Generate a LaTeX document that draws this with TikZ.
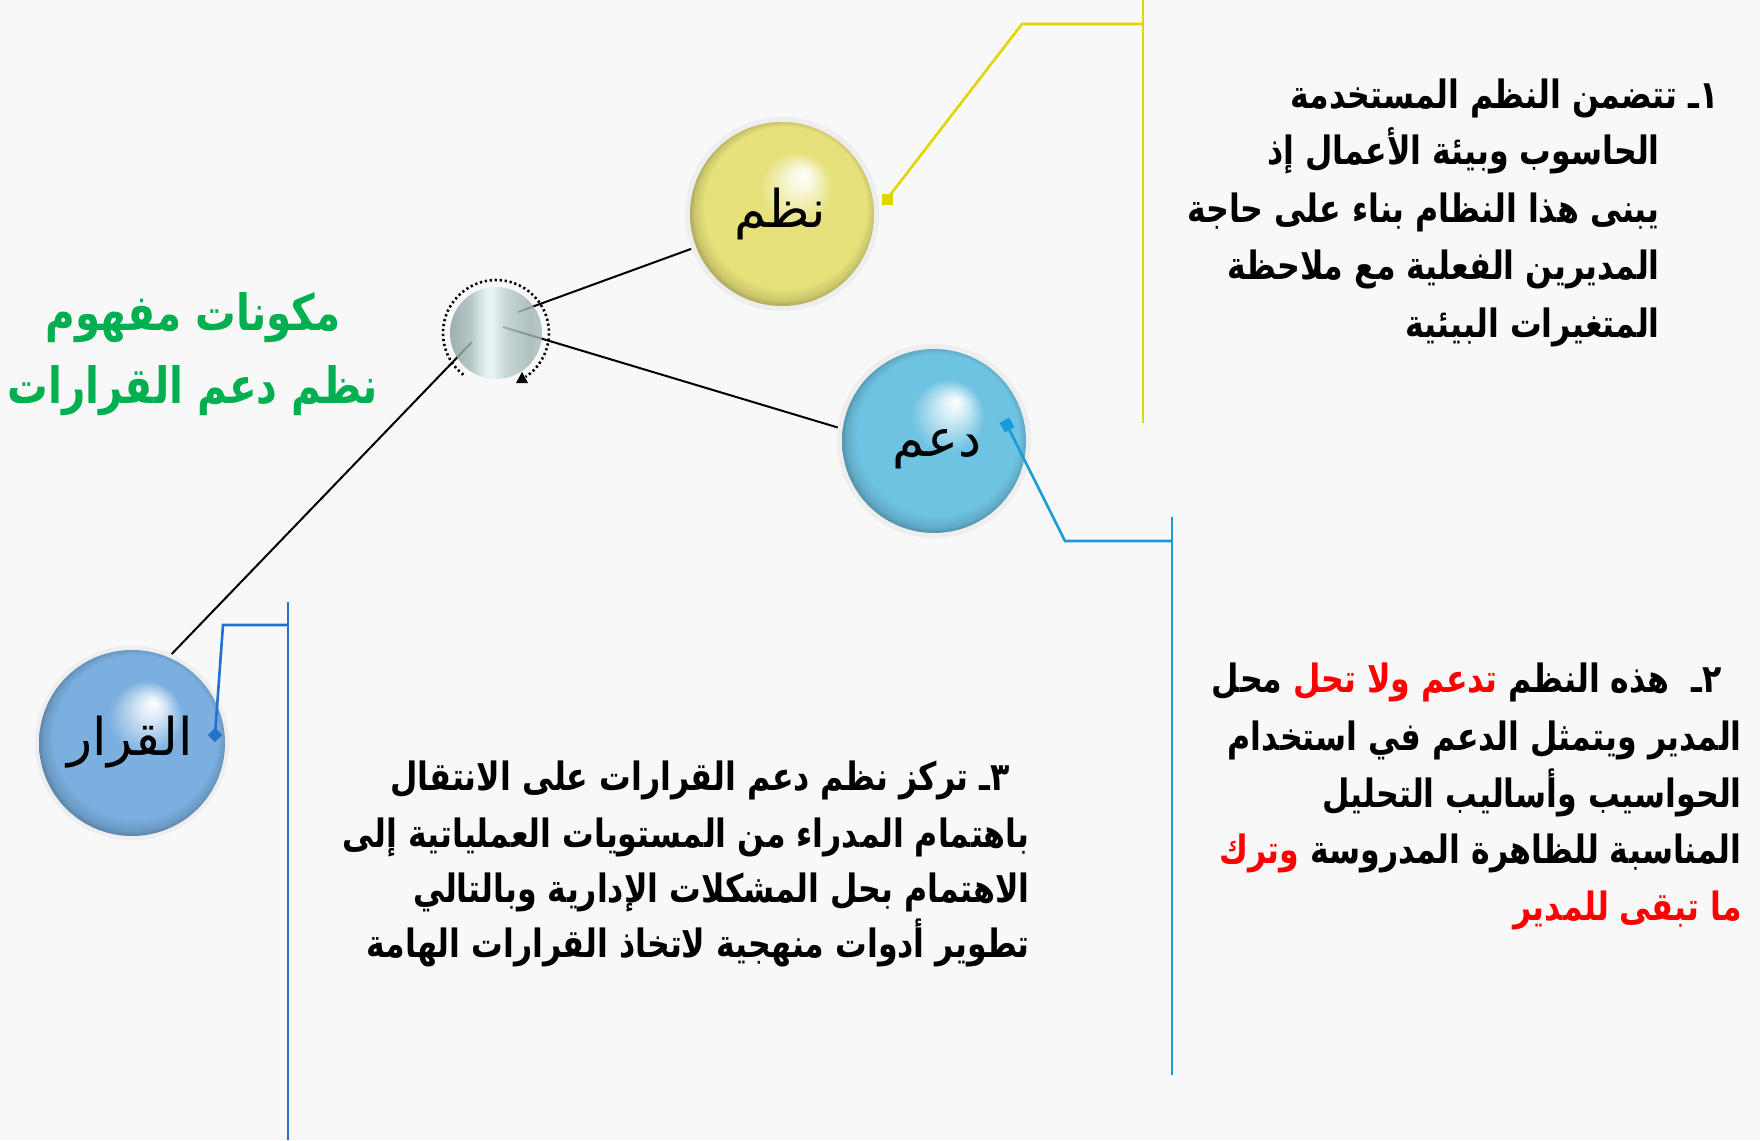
\documentclass[tikz,border=0pt]{standalone}
\usepackage{fontspec}
\usetikzlibrary{calc}
\TeXXeTstate=1
\newfontfamily\arabicfont[Script=Arabic]{DejaVu Sans}
\newfontfamily\arabicnarrow[Script=Arabic, FakeStretch=0.81]{DejaVu Sans}
\definecolor{bgcol}{HTML}{F8F8F8}
\definecolor{halocol}{HTML}{EEEEEE}
\definecolor{yellowbase}{HTML}{E6E17A}
\definecolor{cyanbase}{HTML}{6EC2E2}
\definecolor{bluebase}{HTML}{7AAFDF}
\definecolor{ylinecol}{HTML}{E2D400}
\definecolor{clinecol}{HTML}{1A9BD7}
\definecolor{blinecol}{HTML}{2470CF}
\definecolor{titlegreen}{HTML}{00B050}
\definecolor{mA}{HTML}{8AA0A0}
\definecolor{mB}{HTML}{A8BCBC}
\definecolor{mC}{HTML}{E2F2F2}
\definecolor{mD}{HTML}{BACCCC}
\definecolor{mE}{HTML}{A2B6B6}
\colorlet{spherebase}{yellowbase}
\pgfdeclareradialshading[spherebase]{sphereball}{\pgfpoint{6bp}{11bp}}{%
  color(0bp)=(white); color(3bp)=(spherebase!25!white); color(10bp)=(spherebase);
  color(22bp)=(spherebase); color(24.3bp)=(spherebase!88!black);
  color(25bp)=(spherebase!78!black); color(26bp)=(spherebase!78!black)}
\pgfdeclarehorizontalshading{metalshade}{100bp}{%
  color(0bp)=(mA); color(25bp)=(mA); color(36bp)=(mB); color(45bp)=(mC);
  color(48bp)=(mC); color(56bp)=(mD); color(68bp)=(mE); color(75bp)=(mB); color(100bp)=(mB)}
\tikzset{
  halo/.style={circle, minimum size=194pt, inner sep=0pt, fill=halocol},
  hubnode/.style={circle, minimum size=92pt, inner sep=0pt},
  spoke/.style={line width=2pt, black},
  conn/.style={line width=2.6pt},
  lbl/.style={font=\arabicfont\fontsize{52}{60}\selectfont, inner sep=0pt, anchor=center},
  body/.style={font=\arabicnarrow\bfseries\fontsize{39}{45}\selectfont, inner sep=0pt, anchor=base east},
  ttl/.style={font=\arabicnarrow\bfseries\fontsize{50}{56}\selectfont, inner sep=0pt, anchor=base, text=titlegreen},
  marker/.style={inner sep=0pt, minimum size=11pt},
}
\begin{document}
\begin{tikzpicture}[x=1pt, y=-1pt]
\useasboundingbox (0,0) rectangle (1760,1140);
\fill[bgcol] (0,0) rectangle (1760,1140);

% node placement
\node[hubnode] (hub) at (496,333) {};
\node[halo] (nazm) at (782,214) {};
\node[halo] (daam) at (934,441) {};
\node[halo] (qarar) at (132,743) {};

% spokes (drawn under the hub)
\draw[spoke] ($(hub.center)+(22,-21)$) -- (nazm.201);
\draw[spoke] ($(hub.center)+(7,-6)$) -- (daam.172);
\draw[spoke] ($(hub.center)+(-24,9)$) -- (qarar.66);

% redraw halos on top of spokes
\fill[halocol] (nazm.center) circle (97);
\fill[halocol] (daam.center) circle (97);
\fill[halocol] (qarar.center) circle (97);

% spheres
\colorlet{spherebase}{yellowbase}
\shade[shading=sphereball] (nazm.center) circle (92);
\colorlet{spherebase}{cyanbase}
\shade[shading=sphereball] (daam.center) circle (92);
\colorlet{spherebase}{bluebase}
\shade[shading=sphereball] (qarar.center) circle (93);

% hub
\shade[shading=metalshade, opacity=0.82] (hub.center) circle (46);
\draw[line width=2.6pt, dash pattern=on 2.2pt off 2.8pt] (hub.center) ++(128:53) arc[start angle=128, end angle=416, radius=53];
\fill ($(hub.center)+(26,39)$) -- ($(hub.center)+(32,50)$) -- ($(hub.center)+(20,50)$) -- cycle;

% sphere labels
\node[lbl] (nazmL) at (780,214) {\beginR نظم\endR};
\node[lbl] (daamL) at (937,449) {\beginR دعم\endR};
\node[lbl] (qararL) at (130,742) {\beginR القرار\endR};

% connectors with markers
\node[marker, fill=ylinecol] (m1) at ($(nazm.center)+(105,-15)$) {};
\coordinate (y1) at (1022,24);
\coordinate (ytop) at (1143,0);
\coordinate (ybot) at (1143,423);
\draw[conn, ylinecol] (m1.center) -- (y1) -- (ytop |- y1);
\draw[conn, ylinecol] (ytop) -- (ybot);

\node[marker, fill=clinecol, rotate=30] (m2) at ($(daam.center)+(73,-16)$) {};
\coordinate (c1) at (1065,541);
\coordinate (ctop) at (1172,517);
\coordinate (cbot) at (1172,1075);
\draw[conn, clinecol] (m2.center) -- (c1) -- (ctop |- c1);
\draw[conn, clinecol] (ctop) -- (cbot);

\node[marker, fill=blinecol, rotate=45, minimum size=10pt] (m3) at ($(qarar.center)+(83,-8)$) {};
\coordinate (b1) at (223,625);
\coordinate (btop) at (288,602);
\coordinate (bbot) at (288,1140);
\draw[conn, blinecol] (m3.center) -- (b1) -- (btop |- b1);
\draw[conn, blinecol] (btop) -- (bbot);

% title
\node[ttl] (t1) at (193,330) {\beginR مكونات مفهوم\endR};
\node[ttl] (t2) at (193,403) {\beginR نظم دعم القرارات\endR};

% block 1
\node[body] (a1) at (1719,108) {\beginR ١ـ تتضمن النظم المستخدمة\endR};
\node[body] (a2) at (1660,164) {\beginR الحاسوب وبيئة الأعمال إذ\endR};
\node[body] (a3) at (1660,222) {\beginR يبنى هذا النظام بناء على حاجة\endR};
\node[body] (a4) at (1660,279) {\beginR المديرين الفعلية مع ملاحظة\endR};
\node[body] (a5) at (1660,337) {\beginR المتغيرات البيئية\endR};

% block 2
\node[body] (c1l) at (1722,692) {\beginR محل\endR\ {\color{red}\beginR تدعم ولا تحل\endR}\ \beginR ٢ـ\ \ هذه النظم\endR};
\node[body] (c2l) at (1742,750) {\beginR المدير ويتمثل الدعم في استخدام\endR};
\node[body] (c3l) at (1742,807) {\beginR الحواسيب وأساليب التحليل\endR};
\node[body] (c4l) at (1742,863) {{\color{red}\beginR وترك\endR}\ \beginR المناسبة للظاهرة المدروسة\endR};
\node[body, text=red] (c5l) at (1742,920) {\beginR ما تبقى للمدير\endR};

% block 3
\node[body] (d1) at (1010,790) {\beginR ٣ـ تركز نظم دعم القرارات على الانتقال\endR};
\node[body] (d2) at (1030,847) {\beginR باهتمام المدراء من المستويات العملياتية إلى\endR};
\node[body] (d3) at (1030,902) {\beginR الاهتمام بحل المشكلات الإدارية وبالتالي\endR};
\node[body] (d4) at (1030,957) {\beginR تطوير أدوات منهجية لاتخاذ القرارات الهامة\endR};
\end{tikzpicture}
\end{document}
